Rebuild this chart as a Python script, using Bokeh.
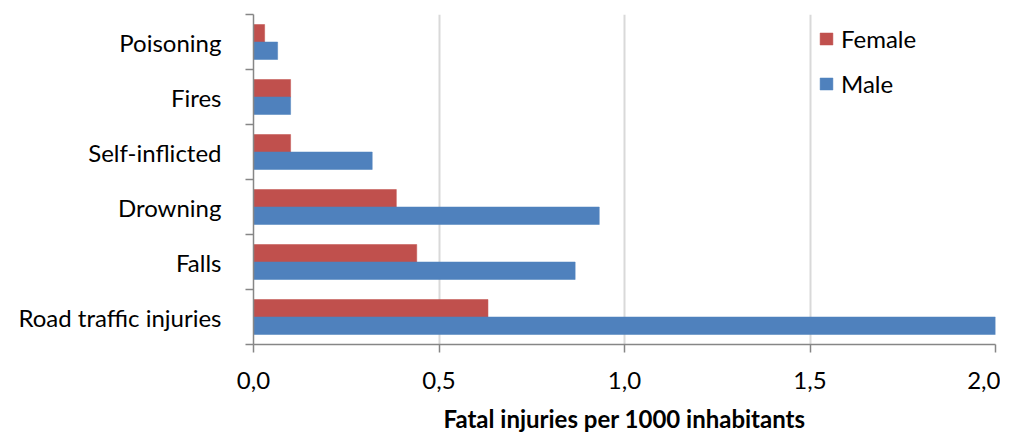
from bokeh.plotting import figure
from bokeh.models import (ColumnDataSource, Range1d, FixedTicker, CustomJSTickFormatter,
                          Legend, LegendItem)
from bokeh.transform import dodge
from bokeh.embed import file_html
from bokeh.resources import INLINE

# Data (top-to-bottom as in the chart)
categories = ["Poisoning", "Fires", "Self-inflicted", "Drowning", "Falls", "Road traffic injuries"]
female = [0.03, 0.10, 0.10, 0.385, 0.44, 0.632]
male = [0.065, 0.10, 0.32, 0.932, 0.867, 2.01]
x_ticks = [0.0, 0.5, 1.0, 1.5, 2.0]

FEMALE_COLOR = "#C0504D"
MALE_COLOR = "#4F81BD"
FONT = "Lato"
FS = "24px"

# bottom-up ordering for the numeric category axis
cats_bu = categories[::-1]
n = len(cats_bu)
pos = [i + 0.5 for i in range(n)]
source = ColumnDataSource(dict(
    cat=cats_bu,
    pos=pos,
    female=female[::-1],
    male=male[::-1],
))

p = figure(
    frame_width=742, frame_height=330,
    min_border_left=253, min_border_right=5, min_border_top=14, min_border_bottom=84,
    x_range=Range1d(0, 2.0), y_range=Range1d(0, n),
    output_backend="svg", toolbar_location=None,
    outline_line_color=None, background_fill_color="white",
)

bar_h = 0.318
rf = p.hbar(y=dodge("pos", 0.159), right="female", left=0, height=bar_h, source=source,
            fill_color=FEMALE_COLOR, line_color=FEMALE_COLOR, line_width=0.5)
rm = p.hbar(y=dodge("pos", -0.159), right="male", left=0, height=bar_h, source=source,
            fill_color=MALE_COLOR, line_color=MALE_COLOR, line_width=0.5)

AXIS_COLOR = "#868686"

# X axis
xt = FixedTicker(ticks=x_ticks, minor_ticks=[])
p.xaxis.ticker = xt
p.xaxis.formatter = CustomJSTickFormatter(code="return tick.toFixed(1).replace('.', ',');")
p.xaxis.axis_line_color = AXIS_COLOR
p.xaxis.axis_line_width = 1.5
p.xaxis.major_tick_line_color = AXIS_COLOR
p.xaxis.major_tick_line_width = 1.5
p.xaxis.major_tick_in = 0
p.xaxis.major_tick_out = 8
p.xaxis.minor_tick_line_color = None
p.xaxis.major_label_text_font = FONT
p.xaxis.major_label_text_font_size = FS
p.xaxis.major_label_text_color = "black"
p.xaxis.major_label_standoff = 19
p.xaxis.axis_label = "Fatal injuries per 1000 inhabitants"
p.xaxis.axis_label_text_font = FONT
p.xaxis.axis_label_text_font_style = "bold"
p.xaxis.axis_label_text_font_size = FS
p.xaxis.axis_label_text_color = "black"
p.xaxis.axis_label_standoff = 12

# Y axis: labels at category centres, tick marks at category boundaries
yt = FixedTicker(ticks=pos, minor_ticks=[float(i) for i in range(n + 1)])
p.yaxis.ticker = yt
p.yaxis.formatter = CustomJSTickFormatter(args=dict(cats=cats_bu),
                                          code="return cats[Math.floor(tick)];")
p.yaxis.axis_line_color = AXIS_COLOR
p.yaxis.axis_line_width = 1.5
p.yaxis.major_tick_in = 0
p.yaxis.major_tick_out = 0
p.yaxis.minor_tick_in = 0
p.yaxis.minor_tick_out = 8
p.yaxis.minor_tick_line_color = AXIS_COLOR
p.yaxis.minor_tick_line_width = 1.5
p.yaxis.major_label_text_font = FONT
p.yaxis.major_label_text_font_size = FS
p.yaxis.major_label_text_color = "black"
p.yaxis.major_label_standoff = 24

# Grid
p.xgrid.ticker = xt
p.xgrid.grid_line_color = "#d9d9d9"
p.xgrid.grid_line_width = 2
p.ygrid.visible = False

legend = Legend(items=[LegendItem(label="Female", renderers=[rf]),
                       LegendItem(label="Male", renderers=[rm])],
                location=(565, 246))
legend.glyph_width = 16
legend.glyph_height = 15
legend.label_height = 15
legend.spacing = 16
legend.padding = 0
legend.margin = 0
legend.label_standoff = 7
legend.border_line_color = None
legend.background_fill_alpha = 0
legend.label_text_font = FONT
legend.label_text_font_size = FS
legend.label_text_color = "black"
p.add_layout(legend, "center")

open("out.html", "w").write(file_html(p, INLINE))
